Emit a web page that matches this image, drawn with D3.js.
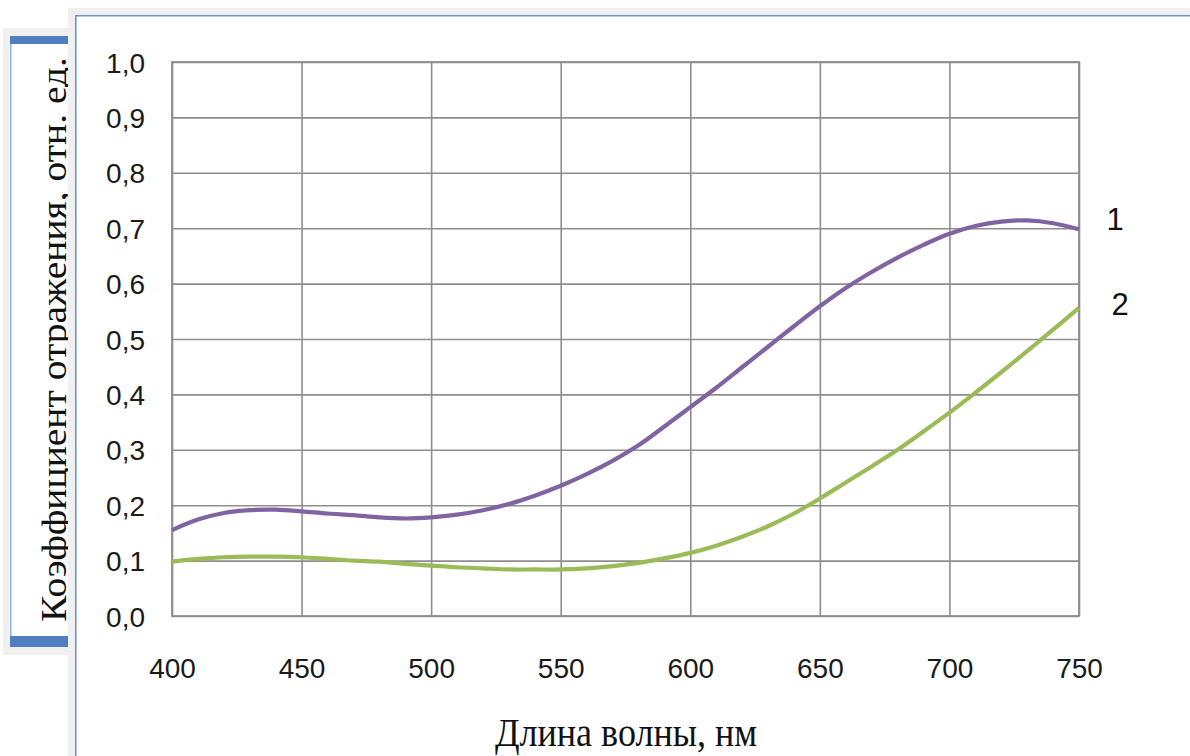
<!DOCTYPE html>
<html>
<head>
<meta charset="utf-8">
<script src="https://cdn.jsdelivr.net/npm/d3@7"></script>
<style>
  html, body { margin: 0; padding: 0; background: #ffffff; }
  svg { display: block; }
</style>
</head>
<body>
<div id="chart"></div>
<script>
// Wavelength grid, nm
const wavelengths = [400, 410, 420, 430, 440, 450, 460, 470, 480, 490,
                     500, 510, 520, 530, 540, 550, 560, 570, 580, 590,
                     600, 610, 620, 630, 640, 650, 660, 670, 680, 690,
                     700, 710, 720, 730, 740, 750];

// Reflectance, curve 1
const reflectance1 = [0.155, 0.174, 0.186, 0.191, 0.192, 0.189, 0.185, 0.182, 0.178, 0.176,
                      0.178, 0.183, 0.191, 0.202, 0.217, 0.235, 0.256, 0.280, 0.308, 0.342,
                      0.377, 0.412, 0.449, 0.486, 0.523, 0.559, 0.592, 0.621, 0.647, 0.670,
                      0.690, 0.704, 0.712, 0.714, 0.709, 0.698];

// Reflectance, curve 2
const reflectance2 = [0.098, 0.103, 0.106, 0.107, 0.107, 0.106, 0.103, 0.100, 0.098, 0.094,
                      0.091, 0.088, 0.086, 0.084, 0.084, 0.084, 0.086, 0.090, 0.096, 0.104,
                      0.114, 0.127, 0.143, 0.162, 0.185, 0.212, 0.241, 0.270, 0.300, 0.333,
                      0.367, 0.403, 0.440, 0.478, 0.517, 0.556];

const xTicks = [400, 450, 500, 550, 600, 650, 700, 750];
const yTicks = [0.0, 0.1, 0.2, 0.3, 0.4, 0.5, 0.6, 0.7, 0.8, 0.9, 1.0];
const seriesLabels = ["1", "2"];
const seriesColors = ["#8064a2", "#9bbb59"];

const xTitle = "Длина волны, нм";
const yTitle = "Коэффициент отражения, отн. ед.";

const W = 1190, H = 756;
const plot = { left: 172, right: 1079, top: 62, bottom: 616 };

const svg = d3.select("#chart").append("svg")
  .attr("width", W).attr("height", H);

// Side frame holding the vertical axis title
svg.append("rect").attr("x", 3).attr("y", 28).attr("width", 66).attr("height", 627)
  .attr("fill", "#f0f0f0");
svg.append("rect").attr("x", 10).attr("y", 36).attr("width", 59).attr("height", 611)
  .attr("fill", "#ffffff");
svg.append("line").attr("x1", 10.8).attr("x2", 10.8).attr("y1", 40).attr("y2", 642)
  .attr("stroke", "#9db6de").attr("stroke-width", 1.6);
svg.append("rect").attr("x", 10).attr("y", 36).attr("width", 59).attr("height", 8)
  .attr("fill", "#4f7fbf");
svg.append("rect").attr("x", 10).attr("y", 636).attr("width", 59).attr("height", 11)
  .attr("fill", "#4f7fbf");

svg.append("text")
  .attr("transform", "translate(66,622) rotate(-90)")
  .attr("font-family", "'Liberation Serif', 'DejaVu Serif', serif")
  .attr("font-size", 36)
  .attr("fill", "#111")
  .attr("textLength", 565)
  .attr("lengthAdjust", "spacingAndGlyphs")
  .text(yTitle);

// Main chart panel, drawn over the side frame
svg.append("rect").attr("x", 68).attr("y", 8).attr("width", W - 68).attr("height", H - 8)
  .attr("fill", "#f0f0f0");
svg.append("rect").attr("x", 76).attr("y", 16).attr("width", W - 76).attr("height", H - 16)
  .attr("fill", "#ffffff");
svg.append("path")
  .attr("d", `M75.8,${H} L75.8,15.8 L${W},15.8`)
  .attr("fill", "none").attr("stroke", "#6b93cf").attr("stroke-width", 1.6);

const x = d3.scaleLinear().domain([400, 750]).range([plot.left, plot.right]);
const y = d3.scaleLinear().domain([0, 1]).range([plot.bottom, plot.top]);

const fmt = d => d3.format(".1f")(d).replace(".", ",");
const gridColor = "#8e8e8e";
const tickFont = "'Liberation Sans', Arial, sans-serif";

// Horizontal gridlines and value labels
const gy = svg.append("g")
  .attr("transform", `translate(${plot.left},0)`)
  .call(d3.axisLeft(y).tickValues(yTicks).tickSize(-(plot.right - plot.left)).tickPadding(27).tickFormat(fmt));
gy.select(".domain").remove();
gy.selectAll(".tick line").attr("stroke", gridColor).attr("stroke-width", 1.6);
gy.selectAll(".tick text")
  .attr("font-family", tickFont).attr("font-size", 28).attr("fill", "#1a1a1a")
  .attr("dy", "0.36em");

// Vertical gridlines and wavelength labels
const gx = svg.append("g")
  .attr("transform", `translate(0,${plot.bottom})`)
  .call(d3.axisBottom(x).tickValues(xTicks).tickSize(-(plot.bottom - plot.top)).tickPadding(0).tickFormat(d3.format("d")));
gx.select(".domain").remove();
gx.selectAll(".tick line").attr("stroke", gridColor).attr("stroke-width", 1.6);
gx.selectAll(".tick text")
  .attr("font-family", tickFont).attr("font-size", 28).attr("fill", "#1a1a1a")
  .attr("y", 62).attr("dy", 0);

// Plot border
svg.append("rect")
  .attr("x", plot.left).attr("y", plot.top)
  .attr("width", plot.right - plot.left).attr("height", plot.bottom - plot.top)
  .attr("fill", "none").attr("stroke", gridColor).attr("stroke-width", 1.8);

// Curves
const line = d3.line()
  .x((d, i) => x(wavelengths[i]))
  .y(d => y(d))
  .curve(d3.curveCatmullRom.alpha(0.5));

[reflectance1, reflectance2].forEach((vals, k) => {
  svg.append("path")
    .datum(vals)
    .attr("d", line)
    .attr("fill", "none")
    .attr("stroke", seriesColors[k])
    .attr("stroke-width", 4.2)
    .attr("stroke-linejoin", "round");
});

// Curve numbers next to the right edge
const labelPos = [{ x: 1115, y: 230 }, { x: 1120, y: 315 }];
seriesLabels.forEach((s, k) => {
  svg.append("text")
    .attr("x", labelPos[k].x).attr("y", labelPos[k].y)
    .attr("text-anchor", "middle")
    .attr("font-family", tickFont).attr("font-size", 31).attr("fill", "#111")
    .text(s);
});

// Horizontal axis title
svg.append("text")
  .attr("x", 495).attr("y", 746)
  .attr("font-family", "'Liberation Serif', 'DejaVu Serif', serif")
  .attr("font-size", 41)
  .attr("fill", "#111")
  .attr("textLength", 262)
  .attr("lengthAdjust", "spacingAndGlyphs")
  .text(xTitle);
</script>
</body>
</html>
